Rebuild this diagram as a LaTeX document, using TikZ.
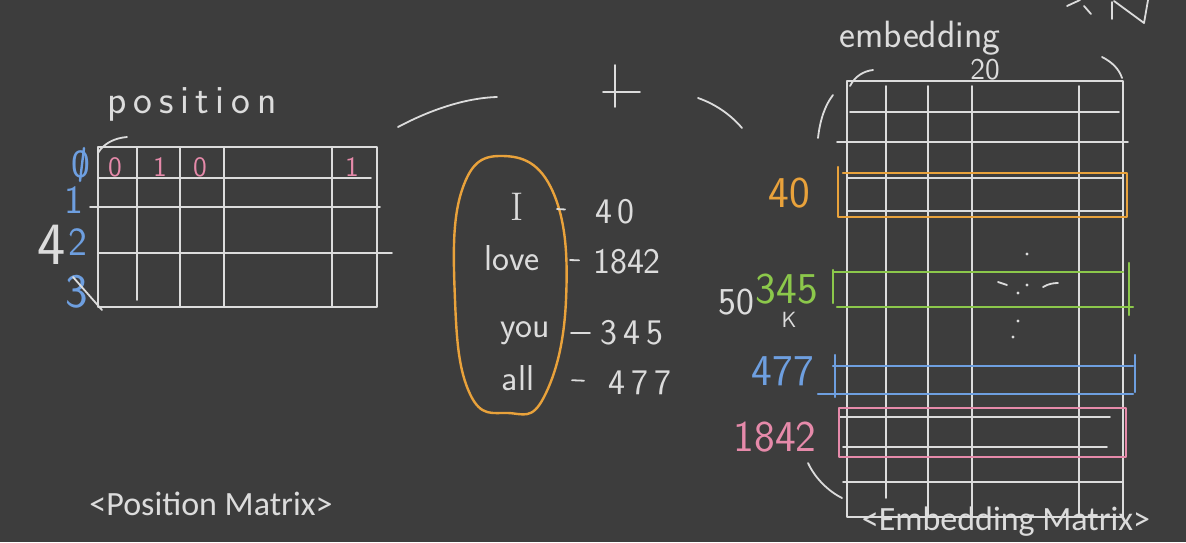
\documentclass[tikz,border=0pt]{standalone}
\usepackage{fontspec}
\newfontfamily\capfont{Carlito}
\usetikzlibrary{positioning}
\definecolor{board}{HTML}{3D3D3D}
\definecolor{chalk}{HTML}{DCDCDC}
\definecolor{chalkorange}{HTML}{E9A23B}
\definecolor{chalkgreen}{HTML}{8CC84B}
\definecolor{chalkblue}{HTML}{6E9FE0}
\definecolor{chalkpink}{HTML}{E68AAA}
\tikzset{
  chalkline/.style={draw=chalk,line width=0.9pt,line cap=round,line join=round},
  colorline/.style={draw=#1,line width=1.2pt,line cap=round,line join=round},
  hand/.style={text=chalk,font=\sffamily\fontsize{18}{18}\selectfont,inner sep=0pt},
  handnum/.style={hand,text=#1},
  caption/.style={text=chalk,font=\capfont\fontsize{17}{17}\selectfont,inner sep=0pt},
  chalkdot/.style={fill=chalk,draw=none},
}
\begin{document}
\begin{tikzpicture}[x=0.5pt,y=-0.5pt]
  \fill[board] (0,0) rectangle (1186,542);
  \useasboundingbox (0,0) rectangle (1186,542);

  % position matrix
  \node[hand,font=\sffamily\fontsize{20}{20}\selectfont] (postitle) at (192,104) {p\,o\,s\,i\,t\,i\,o\,n};
  \draw[chalkline] (98,147) rectangle (377,307);
  \draw[chalkline] (137,147) -- (137,300);
  \foreach \x in {180,224,332}
    \draw[chalkline] (\x,147) -- (\x,307);
  \draw[chalkline] (98,178) -- (371,178);
  \draw[chalkline] (90,207) -- (380,207);
  \draw[chalkline] (98,253) -- (392,253);
  \draw[chalkline] (98,153) .. controls (104,143) and (115,138) .. (127,137);
  \foreach \x/\v [count=\i] in {115/0,160/1,200/0,352/1}
    \node[handnum=chalkpink,font=\sffamily\fontsize{14}{14}\selectfont] (pv\i) at (\x,167) {\v};
  % row labels
  \node[handnum=chalkblue,font=\sffamily\fontsize{20}{20}\selectfont] (row0) at (81,164) {0};
  \draw[colorline=chalkblue] (84,148) -- (80,181);
  \node[handnum=chalkblue,font=\sffamily\fontsize{20}{20}\selectfont] (row1) at (74,200) {1};
  \node[hand,font=\sffamily\fontsize{30}{30}\selectfont] (row4) at (52,245) {4};
  \node[handnum=chalkblue,font=\sffamily\fontsize{20}{20}\selectfont] (row2) at (78,242) {2};
  \node[handnum=chalkblue,font=\sffamily\fontsize{24}{24}\selectfont] (row3) at (77,292) {3};
  \draw[chalkline] (73,277) -- (102,310);
  \node[caption] (poscap) at (211,504) {<Position Matrix>};

  % plus sign and arcs
  \draw[chalkline] (398,127) .. controls (430,110) and (465,98) .. (497,97);
  \draw[chalkline] (615,65) -- (615,107);
  \draw[chalkline] (603,92) -- (640,92);
  \draw[chalkline] (698,98) .. controls (715,104) and (730,114) .. (742,128);

  % words and token ids
  \draw[colorline=chalkorange] plot[smooth cycle,tension=0.75] coordinates {
    (503,156) (553,192) (566,300) (544,397) (508,413)
    (470,394) (455,300) (462,190)};
  \node[hand,font=\rmfamily\fontsize{20}{20}\selectfont] (wI) at (517,207) {I};
  \node[hand] (wlove) at (512,258) {love};
  \node[hand] (wyou) at (525,333) {you};
  \node[hand] (wall) at (518,378) {all};
  \node[hand] (n40) at (615,212) {4\,0};
  \node[hand] (n1842) at (627,262) {1842};
  \node[hand] (n345) at (632,333) {3\,4\,5};
  \node[hand] (n477) at (640,383) {4\,7\,7};
  \draw[chalkline,shorten <=20pt,shorten >=25pt] (wI.center) -- (n40.center);
  \draw[chalkline,shorten <=29pt,shorten >=24pt] (wlove.center) -- (n1842.center);
  \draw[chalkline,shorten <=23pt,shorten >=21pt] (wyou.center) -- (n345.center);
  \draw[chalkline,shorten <=27pt,shorten >=28pt] (wall.center) -- (n477.center);

  % embedding matrix
  \node[hand,font=\sffamily\fontsize{19}{19}\selectfont] (embtitle) at (920,38) {embedding};
  \node[hand,font=\sffamily\fontsize{15}{15}\selectfont] (embdim) at (985,70) {20};
  \draw[chalkline] (847,81) rectangle (1123,517);
  \draw[chalkline] (886,86) -- (886,498);
  \foreach \x in {928,972,1079}
    \draw[chalkline] (\x,86) -- (\x,517);
  \draw[chalkline] (850,112) -- (1119,112);
  \draw[chalkline] (837,142) -- (1128,142);
  \draw[chalkline] (847,178) -- (1123,178);
  \draw[chalkline] (847,211) -- (1123,211);
  \draw[chalkline] (840,417) -- (1110,417);
  \draw[chalkline] (843,447) -- (1107,447);
  \draw[chalkline] (843,482) -- (1123,482);
  % brackets round the matrix
  \draw[chalkline] (850,86) .. controls (855,76) and (864,71) .. (873,70);
  \draw[chalkline] (818,138) .. controls (820,120) and (825,105) .. (833,95);
  \draw[chalkline] (1102,57) .. controls (1112,62) and (1119,69) .. (1122,78);
  \draw[chalkline] (808,463) .. controls (815,478) and (828,491) .. (842,498);
  % rows picked out
  \draw[colorline=chalkorange] (838,167) -- (838,217) -- (1127,217) -- (1127,173) -- (843,173);
  \draw[colorline=chalkgreen] (833,270) -- (833,303);
  \draw[colorline=chalkgreen] (833,272) -- (1123,272);
  \draw[colorline=chalkgreen] (837,307) -- (1133,307);
  \draw[colorline=chalkgreen] (1129,263) -- (1129,315);
  \draw[colorline=chalkblue] (833,366) -- (1133,366);
  \draw[colorline=chalkblue] (818,394) -- (1133,394);
  \draw[colorline=chalkblue] (835,355) -- (835,397);
  \draw[colorline=chalkblue] (1135,355) -- (1135,392);
  \draw[colorline=chalkpink] (839,408) rectangle (1126,457);
  \node[handnum=chalkorange,font=\sffamily\fontsize{22}{22}\selectfont] (e40) at (789,193) {40};
  \node[hand,font=\sffamily\fontsize{19}{19}\selectfont] (e50) at (736,302) {50};
  \node[hand,font=\sffamily\fontsize{11}{11}\selectfont] (eK) at (789,320) {K};
  \node[handnum=chalkgreen,font=\sffamily\fontsize{22}{22}\selectfont] (e345) at (787,289) {345};
  \node[handnum=chalkblue,font=\sffamily\fontsize{22}{22}\selectfont] (e477) at (783,371) {477};
  \node[handnum=chalkpink,font=\sffamily\fontsize{22}{22}\selectfont] (e1842) at (775,437) {1842};
  % dots
  \foreach \x/\y in {1027/254,1027/285,1018/293,1018/321,1013/337}
    \fill[chalkdot] (\x,\y) circle (1.6);
  \draw[chalkline] (998,282) -- (1007,285);
  \draw[chalkline] (1043,287) .. controls (1048,284) and (1053,283) .. (1058,283);
  % times N at the top edge
  \draw[chalkline] (1067,6) -- (1080,0);
  \draw[chalkline] (1084,6) -- (1091,14);
  \draw[chalkline] (1112,2) -- (1112,19);
  \draw[chalkline] (1114,1) -- (1144,23) -- (1148,0);
  \node[caption] (embcap) at (1006,522) {<Embedding Matrix>};
\end{tikzpicture}
\end{document}
